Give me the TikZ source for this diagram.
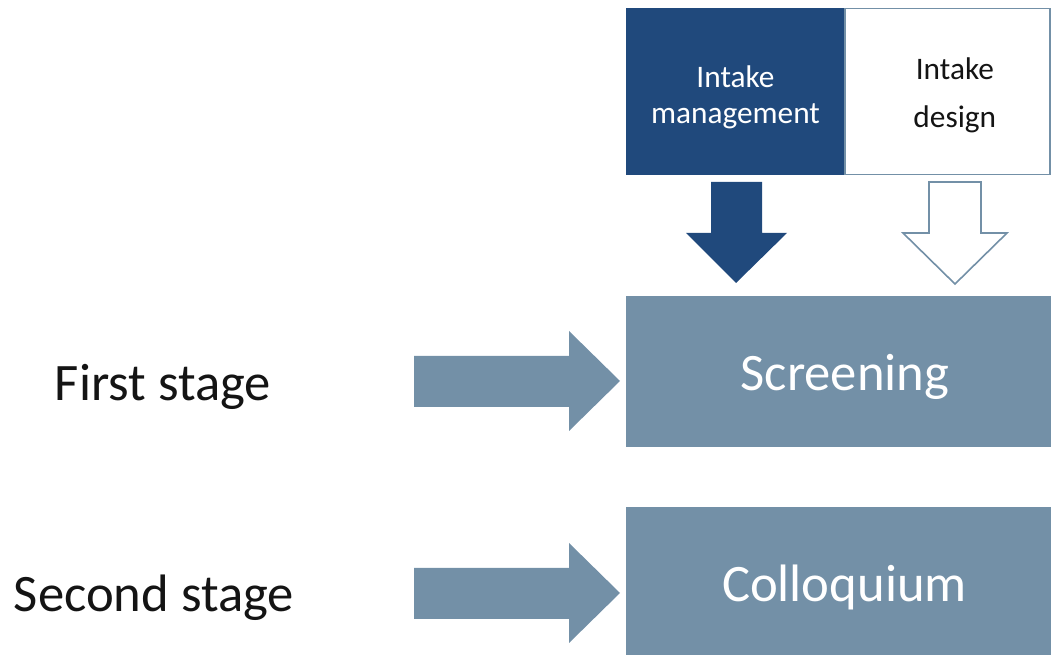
\documentclass[tikz,border=0pt]{standalone}
\usepackage{fontspec}
\setmainfont{Carlito}
\usetikzlibrary{positioning}
\definecolor{intakeblue}{RGB}{32,73,124}
\definecolor{stageslate}{RGB}{115,144,167}
\definecolor{labelgray}{RGB}{20,20,20}

\begin{document}
\begin{tikzpicture}[x=0.75pt, y=-0.75pt]
  \tikzset{
    box/.style={
      inner sep=0pt, outer sep=0pt
    },
    intaketext/.style={
      box, align=center, font=\fontsize{23.5pt}{27pt}\selectfont
    },
    stagebox/.style={
      box, fill=stageslate
    },
    stagetext/.style={
      anchor=base, inner sep=0pt, font=\fontsize{39.5pt}{44pt}\selectfont
    }
  }
  \useasboundingbox (0,0) rectangle (1051,655);

  \node [box, fill=intakeblue, minimum width=219*0.75pt, minimum height=167*0.75pt] (mgmt) at (735.5,91.5) {};
  \node [box, draw=stageslate, line width=1.2pt, fill=white, minimum width=205*0.75pt, minimum height=166*0.75pt] (design) at (947.5,91.5) {};
  \node [intaketext, text=white] (mgmttext) at ([yshift=-4.5pt]mgmt.center) {Intake\\management};
  \node [intaketext, text=labelgray, font=\fontsize{23.5pt}{36pt}\selectfont] (designtext) at ([xshift=5.5pt, yshift=-3pt]design.center) {Intake\\design};

  \node [stagebox, minimum width=425*0.75pt, minimum height=151*0.75pt] (screen) at (838.5,371.5) {};
  \node [stagebox, minimum width=425*0.75pt, minimum height=148*0.75pt] (collo) at (838.5,581) {};
  \node [stagetext, text=white] (screentext) at (845,391) {Screening};
  \node [stagetext, text=white] (collotext) at (844.5,602) {Colloquium};
  \node [stagetext, text=labelgray] (first) at (163,401) {First stage};
  \node [stagetext, text=labelgray] (second) at (154,612) {Second stage};

  % tips of the block arrows
  \coordinate (tip1) at (620,381);
  \coordinate (tip2) at (620,593);
  \foreach \t in {tip1, tip2} {
    \fill [stageslate] (\t) -- ++(-51,-50) -- ++(0,25) -- ++(-155,0) -- ++(0,51)
      -- ++(155,0) -- ++(0,24) -- cycle;
  }
  \coordinate (tipm) at (736,283);
  \coordinate (tipd) at (955,284);
  \fill [intakeblue] (tipm) -- ++(-50,-50) -- ++(25,0) -- ++(0,-51) -- ++(51,0)
    -- ++(0,51) -- ++(25,0) -- cycle;
  \draw [stageslate, fill=white, line width=1.2pt, line join=miter] (tipd) -- ++(-52,-51) -- ++(26,0) -- ++(0,-51) -- ++(52,0)
    -- ++(0,51) -- ++(26,0) -- cycle;
\end{tikzpicture}
\end{document}
